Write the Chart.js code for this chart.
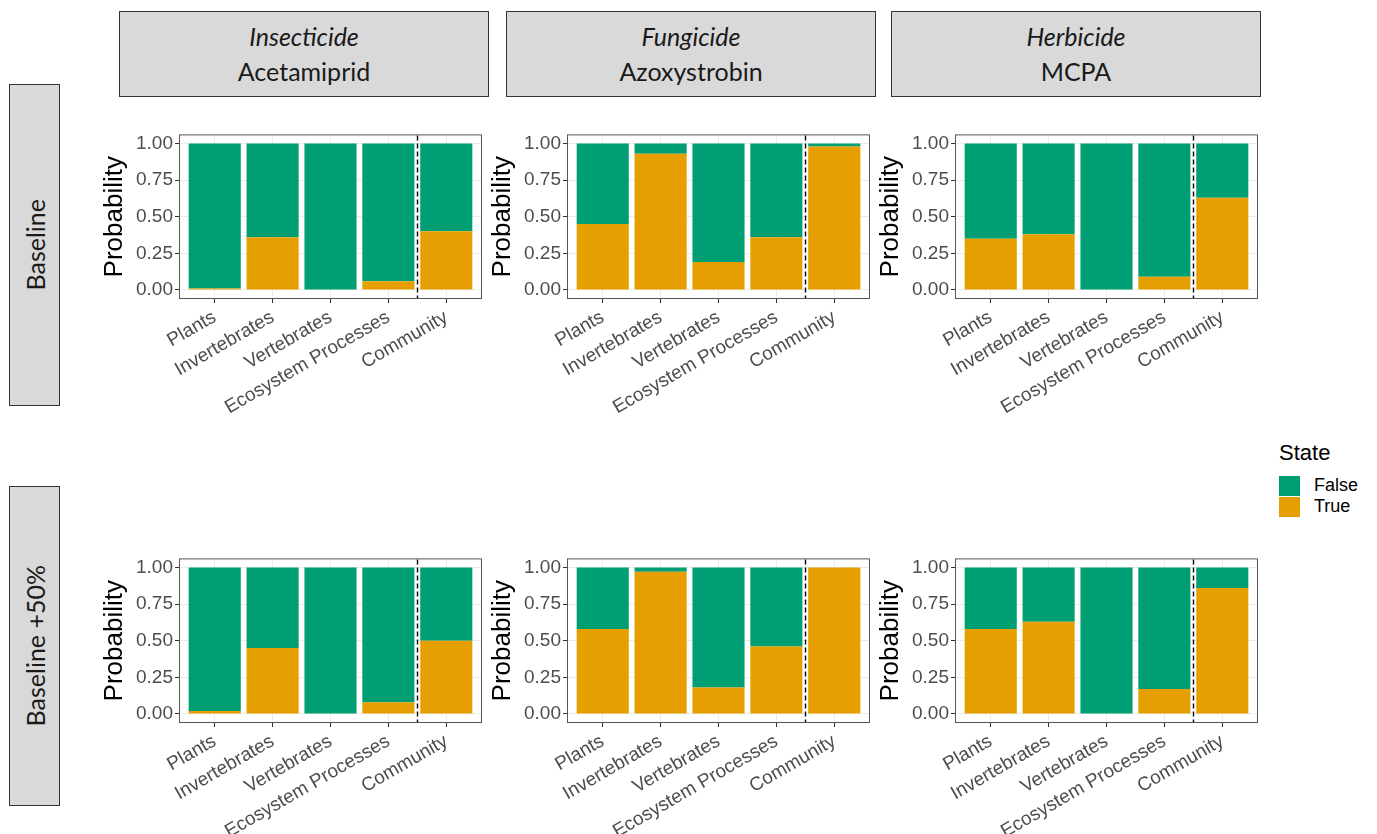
<!DOCTYPE html>
<html>
<head>
<meta charset="utf-8">
<script src="https://cdn.jsdelivr.net/npm/chart.js@4.4.1/dist/chart.umd.min.js"></script>
<style>
  body { margin: 0; background: #fff; width: 1377px; height: 834px; overflow: hidden; position: relative; font-family: "Liberation Sans", Arial, sans-serif; }
  .strip { position: absolute; background: #d9d9d9; border: 1px solid #333; box-sizing: border-box; font-family: Lato, "Open Sans", sans-serif; color: #1a1a1a; font-size: 25px; display: flex; flex-direction: column; align-items: center; justify-content: center; line-height: 35px; }
  .strip i { font-style: italic; }
  .row { position: absolute; background: #d9d9d9; border: 1px solid #333; box-sizing: border-box; font-family: Lato, "Open Sans", sans-serif; color: #1a1a1a; font-size: 25px; display: flex; align-items: center; justify-content: center; }
  .row span { writing-mode: vertical-rl; transform: rotate(180deg); white-space: nowrap; }
  canvas { position: absolute; }
  .legend { position: absolute; left: 1279px; top: 440px; }
  .legend .title { font-size: 22px; color: #000; margin-bottom: 9px; }
  .legend .item { display: flex; align-items: center; height: 21px; font-size: 18px; color: #000; }
  .legend .sw { width: 21px; height: 20px; margin-right: 14px; }
</style>
</head>
<body>

<div class="strip" style="left:119px;top:11px;width:370px;height:86px"><i>Insecticide</i><span>Acetamiprid</span></div>
<div class="strip" style="left:506px;top:11px;width:370px;height:86px"><i>Fungicide</i><span>Azoxystrobin</span></div>
<div class="strip" style="left:891px;top:11px;width:370px;height:86px"><i>Herbicide</i><span>MCPA</span></div>

<div class="row" style="left:9px;top:84px;width:51px;height:322px"><span>Baseline</span></div>
<div class="row" style="left:9px;top:486px;width:51px;height:320px"><span>Baseline +50%</span></div>

<canvas id="p00"></canvas>
<canvas id="p01"></canvas>
<canvas id="p02"></canvas>
<canvas id="p10"></canvas>
<canvas id="p11"></canvas>
<canvas id="p12"></canvas>

<div class="legend">
  <div class="title">State</div>
  <div class="item"><div class="sw" style="background:#009E73"></div>False</div>
  <div class="item"><div class="sw" style="background:#E69F00"></div>True</div>
</div>

<script>
const categories = ['Plants', 'Invertebrates', 'Vertebrates', 'Ecosystem Processes', 'Community'];
const yTicks = [0, 0.25, 0.5, 0.75, 1];
const dividerAt = 4.5; // between Ecosystem Processes and Community

// probability of state True / False per category
const acetamipridBaseTrue   = [0.01, 0.36, 0.00, 0.06, 0.40];
const acetamipridBaseFalse  = [0.99, 0.64, 1.00, 0.94, 0.60];
const azoxystrobinBaseTrue  = [0.45, 0.93, 0.19, 0.36, 0.98];
const azoxystrobinBaseFalse = [0.55, 0.07, 0.81, 0.64, 0.02];
const mcpaBaseTrue          = [0.35, 0.38, 0.00, 0.09, 0.63];
const mcpaBaseFalse         = [0.65, 0.62, 1.00, 0.91, 0.37];

const acetamipridPlusTrue   = [0.02, 0.45, 0.00, 0.08, 0.50];
const acetamipridPlusFalse  = [0.98, 0.55, 1.00, 0.92, 0.50];
const azoxystrobinPlusTrue  = [0.58, 0.97, 0.18, 0.46, 1.00];
const azoxystrobinPlusFalse = [0.42, 0.03, 0.82, 0.54, 0.00];
const mcpaPlusTrue          = [0.58, 0.63, 0.00, 0.17, 0.86];
const mcpaPlusFalse         = [0.42, 0.37, 1.00, 0.83, 0.14];

const verde = '#009E73';
const laranja = '#E69F00';

const plotLeft = [180, 568, 956];
const plotTop = [132, 556];
const plotW = 301, plotH = 166;
const yAxisW = 82, xAxisH = 130, padTop = 10, padRight = 10;

const moldura = {
  id: 'moldura',
  afterDatasetsDraw(chart) {
    const { ctx, chartArea: a, scales } = chart;
    ctx.save();
    const x = Math.round(scales.x.getPixelForValue(dividerAt)) + 0.5;
    ctx.strokeStyle = '#000';
    ctx.lineWidth = 1.4;
    ctx.setLineDash([5, 3]);
    ctx.beginPath();
    ctx.moveTo(x, a.top);
    ctx.lineTo(x, a.bottom);
    ctx.stroke();
    ctx.setLineDash([]);
    ctx.strokeStyle = '#555';
    ctx.lineWidth = 1;
    ctx.strokeRect(a.left - 0.5, a.top - 0.5, a.width + 1, a.height + 1);
    ctx.restore();
  }
};

function desenha(id, row, col, trueVals, falseVals) {
  const cv = document.getElementById(id);
  cv.width = yAxisW + plotW + padRight;
  cv.height = padTop + plotH + xAxisH;
  cv.style.left = (plotLeft[col] - yAxisW) + 'px';
  cv.style.top = (plotTop[row] - padTop) + 'px';

  new Chart(cv, {
    type: 'bar',
    data: {
      datasets: [{
        label: 'True',
        data: trueVals.map((v, i) => ({ x: i + 1, y: v })),
        backgroundColor: laranja,
        categoryPercentage: 1,
        barPercentage: 0.9
      }, {
        label: 'False',
        data: falseVals.map((v, i) => ({ x: i + 1, y: v })),
        backgroundColor: verde,
        categoryPercentage: 1,
        barPercentage: 0.9
      }]
    },
    options: {
      responsive: false,
      animation: false,
      devicePixelRatio: 1,
      layout: { padding: { top: padTop, right: padRight, left: 0, bottom: 0 } },
      plugins: { legend: { display: false }, tooltip: { enabled: false } },
      scales: {
        x: {
          type: 'linear',
          stacked: true,
          offset: false,
          min: 0.4,
          max: 5.6,
          afterBuildTicks: s => { s.ticks = categories.map((c, i) => ({ value: i + 1 })); },
          afterFit: s => { s.height = xAxisH; },
          ticks: {
            callback: v => categories[v - 1],
            minRotation: 30,
            maxRotation: 30,
            autoSkip: false,
            color: '#4d4d4d',
            font: { family: 'Liberation Sans', size: 19 },
            padding: 3
          },
          grid: { offset: false, color: '#ebebeb', tickColor: '#333', tickLength: 5 },
          border: { display: false }
        },
        y: {
          stacked: true,
          min: -0.055,
          max: 1.055,
          afterBuildTicks: s => { s.ticks = yTicks.map(v => ({ value: v })); },
          afterFit: s => { s.width = yAxisW; },
          ticks: {
            callback: v => v.toFixed(2),
            color: '#4d4d4d',
            font: { family: 'Liberation Sans', size: 19 },
            padding: 2
          },
          grid: { color: '#ebebeb', tickColor: '#333', tickLength: 5 },
          border: { display: false },
          title: {
            display: true,
            text: 'Probability',
            color: '#000',
            font: { family: 'Liberation Sans', size: 26 },
            padding: { top: 1, bottom: 4 }
          }
        }
      }
    },
    plugins: [moldura]
  });
}

desenha('p00', 0, 0, acetamipridBaseTrue, acetamipridBaseFalse);
desenha('p01', 0, 1, azoxystrobinBaseTrue, azoxystrobinBaseFalse);
desenha('p02', 0, 2, mcpaBaseTrue, mcpaBaseFalse);
desenha('p10', 1, 0, acetamipridPlusTrue, acetamipridPlusFalse);
desenha('p11', 1, 1, azoxystrobinPlusTrue, azoxystrobinPlusFalse);
desenha('p12', 1, 2, mcpaPlusTrue, mcpaPlusFalse);
</script>
</body>
</html>
